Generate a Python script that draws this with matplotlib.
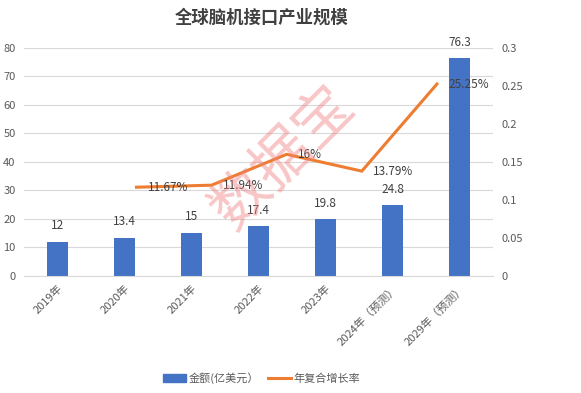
import matplotlib
matplotlib.use('Agg')
import matplotlib.pyplot as plt
from matplotlib.patches import Patch
from matplotlib.lines import Line2D

plt.rcParams['font.family'] = ['Noto Sans CJK SC', 'DejaVu Sans']

# data
years = ['2019年', '2020年', '2021年', '2022年', '2023年', '2024年（预测）', '2029年（预测）']
amount = [12, 13.4, 15, 17.4, 19.8, 24.8, 76.3]
rate_years = ['2020年', '2021年', '2022年', '2023年', '2024年']
rate = [0.1167, 0.1194, 0.16, 0.1379, 0.2525]
rate_labels = ['11.67%', '11.94%', '16%', '13.79%', '25.25%']

BLUE = '#4472C4'
ORANGE = '#ED7D31'
TXT = '#595959'
GRID = '#D9D9D9'

fig = plt.figure(figsize=(5.81, 3.93), dpi=100)
pos = [0.041, 0.298, 0.808, 0.58]
ax = fig.add_axes(pos)

x = range(len(years))
ax.bar(x, amount, width=0.31, color=BLUE, zorder=2)
for i, v in enumerate(amount):
    ax.annotate(f'{v:g}', (i, v), xytext=(0, 7), textcoords='offset points',
                ha='center', va='bottom', fontsize=8.5, color='#404040')
ax.set_xlim(-0.5, len(years) - 0.5)
ax.set_ylim(0, 80)
ax.set_yticks(range(0, 81, 10))
ax.grid(axis='y', color=GRID, linewidth=0.8, zorder=0)
ax.set_xticks(list(x))
ax.set_xticklabels(years, rotation=45, ha='right', rotation_mode='anchor',
                   fontsize=8, color=TXT)
ax.tick_params(axis='x', length=0, pad=5)
ax.tick_params(axis='y', length=0, labelsize=8, labelcolor=TXT, pad=6)
for s in ['top', 'right', 'left']:
    ax.spines[s].set_visible(False)
ax.spines['bottom'].set_color(GRID)

# secondary axis for the growth rate line (Excel secondary category axis)
ax2 = fig.add_axes(pos, frameon=False)
ax2.set_zorder(3)
lx = [i + 1 for i in range(len(rate_years))]
ax2.plot(lx, rate, color=ORANGE, linewidth=2.2, solid_joinstyle='miter')
for xi, r, lab in zip(lx, rate, rate_labels):
    ax2.annotate(lab, (xi, r), xytext=(8, 0), textcoords='offset points',
                 ha='left', va='center', fontsize=8.5, color='#404040')
ax2.set_xlim(-0.5, 5.75)
ax2.set_ylim(0, 0.3)
ax2.set_xticks([])
ax2.yaxis.tick_right()
ax2.set_yticks([0, 0.05, 0.1, 0.15, 0.2, 0.25, 0.3])
ax2.set_yticklabels(['0', '0.05', '0.1', '0.15', '0.2', '0.25', '0.3'])
ax2.tick_params(axis='y', length=0, labelsize=8, labelcolor=TXT, pad=6)

fig.text(0.451, 0.954, '全球脑机接口产业规模', ha='center', va='center',
         fontsize=12.5, fontweight='bold', color='#404040')

# watermark
fig.text(0.487, 0.598, '数据宝', ha='center', va='center', fontsize=42,
         rotation=45, color='#F08080', alpha=0.45, zorder=10)

handles = [Patch(color=BLUE, label='金额(亿美元）'),
           Line2D([0], [0], color=ORANGE, linewidth=2.2, label='年复合增长率')]
fig.legend(handles=handles, loc='center', bbox_to_anchor=(0.451, 0.038), ncol=2,
           frameon=False, fontsize=8, handlelength=2.0, columnspacing=0.8,
           handletextpad=0.3, labelcolor=TXT)

fig.savefig('out.png', dpi=100)
